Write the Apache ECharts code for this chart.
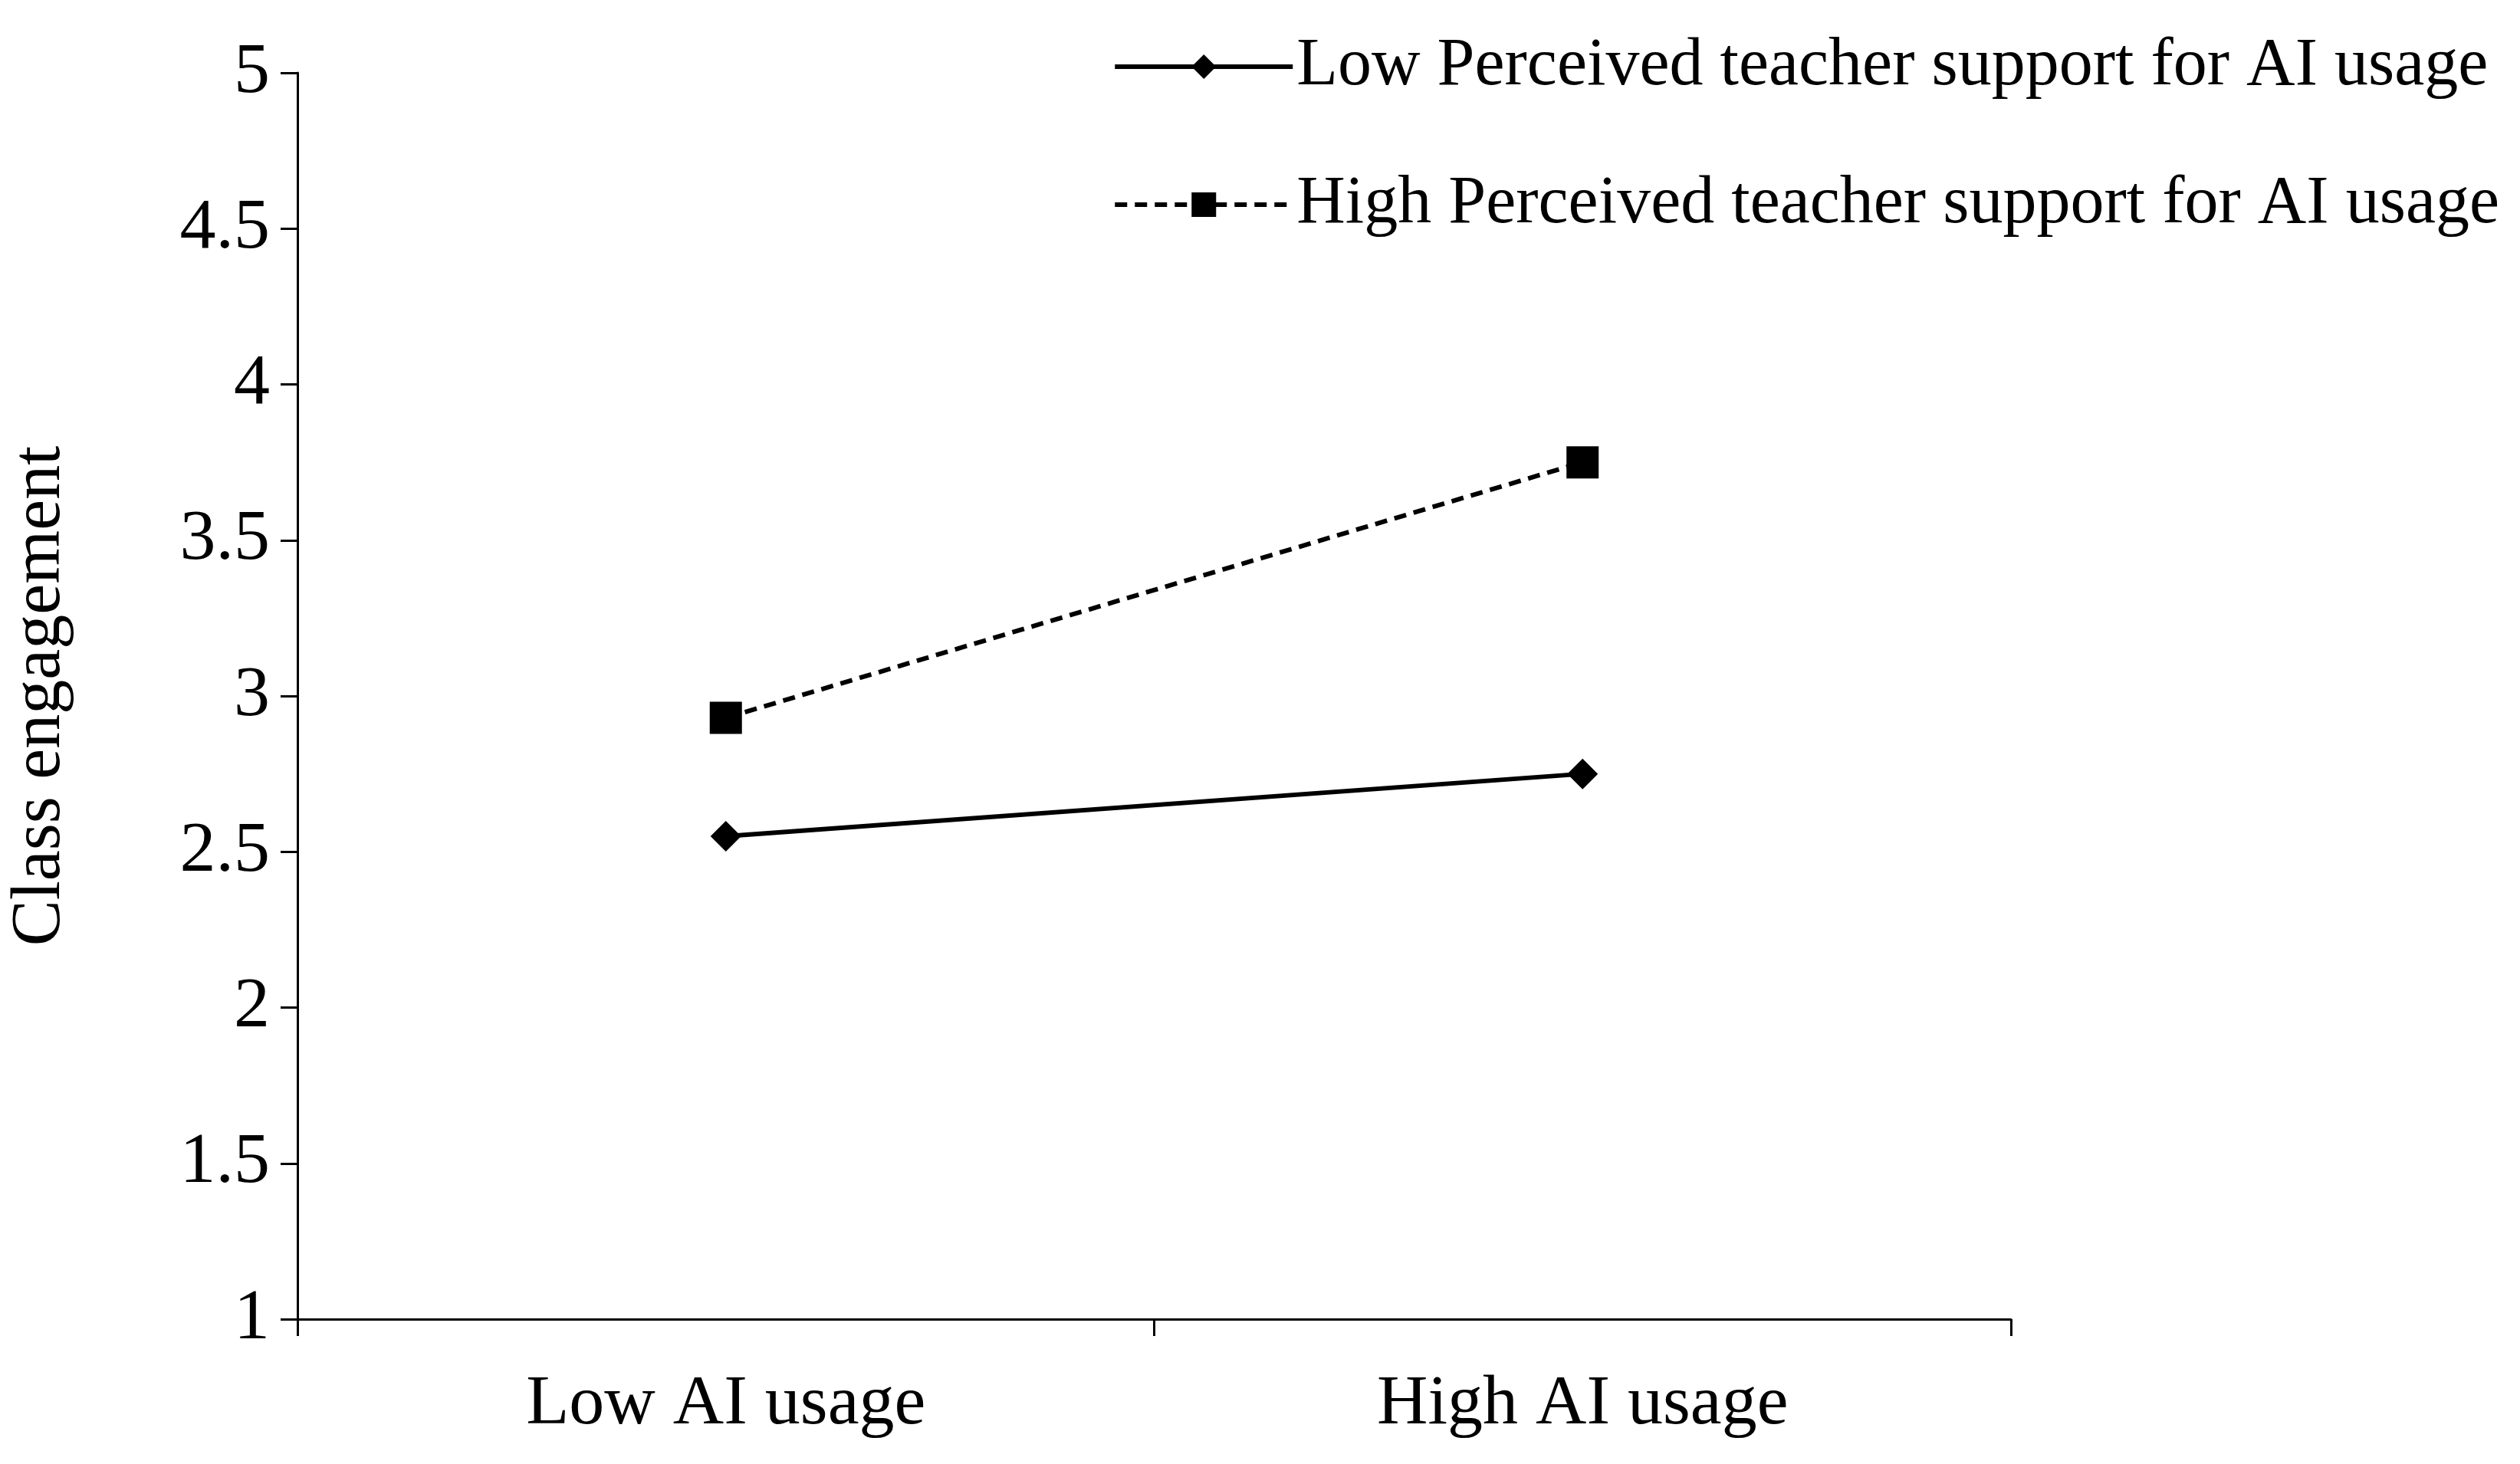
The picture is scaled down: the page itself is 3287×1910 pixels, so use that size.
<!DOCTYPE html>
<html>
<head>
<meta charset="UTF-8">
<script src="https://cdn.jsdelivr.net/npm/echarts@6/dist/echarts.min.js"></script>
<style>html,body{margin:0;background:#fff}#main{width:3287px;height:1910px}</style>
</head>
<body>
<div id="main"></div>
<script>
var categories = ['Low AI usage', 'High AI usage'];
var lowSupport = [2.55, 2.75];
var highSupport = [2.93, 3.75];
var yTicks = [1, 1.5, 2, 2.5, 3, 3.5, 4, 4.5, 5];

var font = 'Liberation Serif';
var chart = echarts.init(document.getElementById('main'));
chart.setOption({
  animation: false,
  textStyle: { fontFamily: font, color: '#000' },
  legend: {
    orient: 'vertical', right: 22, top: 38, itemGap: 92,
    itemWidth: 232, itemHeight: 40,
    lineStyle: { width: 6 },
    textStyle: { fontFamily: font, fontSize: 88, color: '#000' },
    data: ['Low Perceived teacher support for AI usage', 'High Perceived teacher support for AI usage']
  },
  grid: { left: 383, right: 664, top: 95, bottom: 189 },
  xAxis: {
    type: 'category', data: categories, boundaryGap: true,
    axisLine: { lineStyle: { color: '#000', width: 3 } },
    axisTick: { show: true, interval: 0, alignWithLabel: false, length: 22, lineStyle: { color: '#000', width: 3 } },
    axisLabel: { fontSize: 92, color: '#000', fontFamily: font, margin: 66 }
  },
  yAxis: {
    type: 'value', min: 1, max: 5, interval: 0.5,
    name: 'Class engagement', nameLocation: 'middle', nameGap: 290,
    nameTextStyle: { fontSize: 90, color: '#000', fontFamily: font },
    splitLine: { show: false },
    axisLine: { show: true, lineStyle: { color: '#000', width: 3 } },
    axisTick: { show: true, length: 22, lineStyle: { color: '#000', width: 3 } },
    axisLabel: { fontSize: 94, color: '#000', fontFamily: font, margin: 36,
      formatter: function (v) { return yTicks.indexOf(v) >= 0 ? String(v) : ''; } }
  },
  series: [
    { name: 'Low Perceived teacher support for AI usage', type: 'line', data: lowSupport,
      symbol: 'diamond', symbolSize: 40, itemStyle: { color: '#000' },
      lineStyle: { color: '#000', width: 6, type: 'solid' } },
    { name: 'High Perceived teacher support for AI usage', type: 'line', data: highSupport,
      symbol: 'rect', symbolSize: 42, itemStyle: { color: '#000' },
      lineStyle: { color: '#000', width: 6, type: [16, 10] } }
  ]
});
</script>
</body>
</html>
